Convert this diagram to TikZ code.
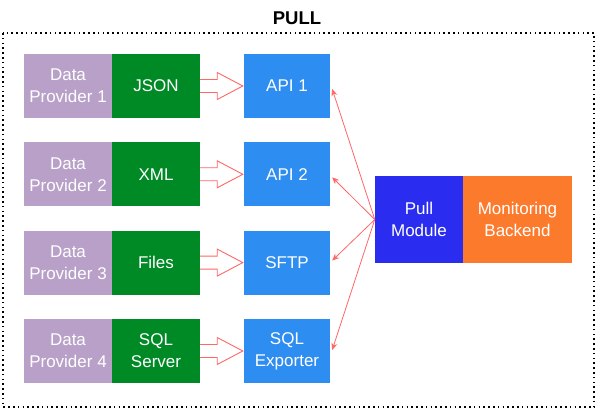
\documentclass[tikz,border=0pt]{standalone}
\usepackage{fontspec}
\setmainfont{Liberation Sans}
\usetikzlibrary{arrows.meta,calc}
\definecolor{prov}{RGB}{185,160,200}
\definecolor{fmt}{RGB}{0,138,38}
\definecolor{api}{RGB}{46,141,240}
\definecolor{pullc}{RGB}{42,45,240}
\definecolor{mon}{RGB}{252,122,44}
\definecolor{arr}{RGB}{255,102,102}
\tikzset{
  box/.style={minimum height=64pt, inner sep=0pt, text=white, font=\fontsize{17}{22}\selectfont, align=center},
  provbox/.style={box, fill=prov, minimum width=88pt},
  fmtbox/.style={box, fill=fmt, minimum width=88pt},
  apibox/.style={box, fill=api, minimum width=86pt},
  thin/.style={draw=arr, line width=0.8pt, -{Stealth[length=7pt,width=6pt]}},
  hollow/.style={draw=arr, line width=0.9pt, fill=white, line join=miter},
}
\begin{document}
\begin{tikzpicture}[x=1pt,y=-1pt]
\useasboundingbox (0,0) rectangle (597,414);
\fill[white] (0,0) rectangle (597,414);
\draw[line width=1.6pt, dash pattern=on 1.6pt off 3.2pt] (3,33) rectangle (594,407);
\node[font=\fontsize{18.5}{20}\selectfont\bfseries] (title) at (297,18) {PULL};
\foreach \i/\yy/\f/\a in {1/86/JSON/API 1, 2/174.3/XML/API 2, 3/262.6/Files/SFTP, 4/351/{SQL\\Server}/{SQL\\Exporter}}{
  \node[provbox] (p\i) at (68,\yy) {Data\\Provider \i};
  \node[fmtbox] (g\i) at (156,\yy) {\f};
  \node[apibox] (a\i) at (287,\yy) {\a};
  \draw[hollow] ($(g\i.east)+(0,-6.5)$) -- ($(g\i.east)+(17,-6.5)$) -- ($(g\i.east)+(17,-13.5)$) -- ($(a\i.west)+(-1,0)$) -- ($(g\i.east)+(17,13.5)$) -- ($(g\i.east)+(17,6.5)$) -- ($(g\i.east)+(0,6.5)$);
}
\node[box, fill=pullc, minimum width=88pt, minimum height=87pt] (pull) at (419,219.5) {Pull\\Module};
\node[box, fill=mon, minimum width=109pt, minimum height=87pt] (mon) at (517.5,219.5) {Monitoring\\Backend};
\draw[thin] (pull.west) -- ($(a1.east)+(2,3)$);
\draw[thin] (pull.west) -- ($(a2.east)+(2,3)$);
\draw[thin] (pull.west) -- ($(a3.east)+(2,-2)$);
\draw[thin] (pull.west) -- ($(a4.east)+(2,-1)$);
\end{tikzpicture}
\end{document}
